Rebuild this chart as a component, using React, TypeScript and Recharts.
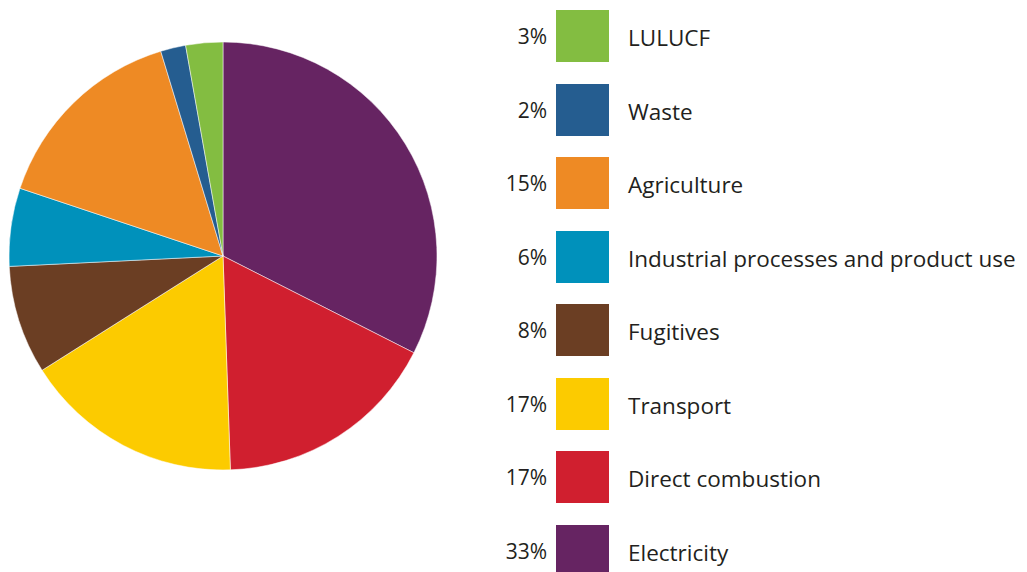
import { Cell, Legend, Pie, PieChart } from "recharts";

const SECTORS = [
  "Electricity",
  "Direct combustion",
  "Transport",
  "Fugitives",
  "Industrial processes and product use",
  "Agriculture",
  "Waste",
  "LULUCF",
];
// share of emissions
const SHARES = [32.5, 17.0, 16.6, 8.2, 5.9, 15.2, 1.9, 2.8];
// labels as printed in the legend
const SHARE_LABELS = ["33%", "17%", "17%", "8%", "6%", "15%", "2%", "3%"];
const COLORS = ["#662462", "#d01f2f", "#fccb00", "#6b3e23", "#0091bb", "#ee8a24", "#255d90", "#83bd41"];

const FONT = "'Open Sans', 'Noto Sans', sans-serif";
const INK = "#231f20";

const rows = SECTORS.map((name, i) => ({
  name,
  value: SHARES[i],
  label: SHARE_LABELS[i],
  color: COLORS[i],
}));

function SectorLegend() {
  // top of the legend is the last slice (LULUCF), bottom is Electricity
  const items = [...rows].reverse();
  return (
    <div style={{ fontFamily: FONT, color: INK, fontSize: 22.5 }}>
      {items.map((r) => (
        <div
          key={r.name}
          style={{ display: "flex", alignItems: "center", height: 52, marginBottom: 21.5 }}
        >
          <span style={{ width: 57, textAlign: "right", paddingRight: 9, fontSize: 21 }}>{r.label}</span>
          <span style={{ width: 53, height: 52, background: r.color, flex: "none" }} />
          <span style={{ paddingLeft: 19, paddingTop: 3, whiteSpace: "nowrap" }}>{r.name}</span>
        </div>
      ))}
    </div>
  );
}

export default function App() {
  return (
    <div style={{ position: "absolute", left: 0, top: 0, width: 1027, height: 572, background: "#fff" }}>
      <PieChart width={1027} height={572} margin={{ top: 0, right: 0, bottom: 0, left: 0 }}>
        <Pie
          data={rows}
          dataKey="value"
          nameKey="name"
          cx={223}
          cy={256}
          outerRadius={214}
          startAngle={90}
          endAngle={-270}
          stroke="#ffffff"
          strokeWidth={0.5}
          isAnimationActive={false}
        >
          {rows.map((r) => (
            <Cell key={r.name} fill={r.color} />
          ))}
        </Pie>
        <Legend
          layout="vertical"
          verticalAlign="top"
          align="right"
          content={() => <SectorLegend />}
          wrapperStyle={{ left: 490, top: 10, width: 537 }}
        />
      </PieChart>
    </div>
  );
}
